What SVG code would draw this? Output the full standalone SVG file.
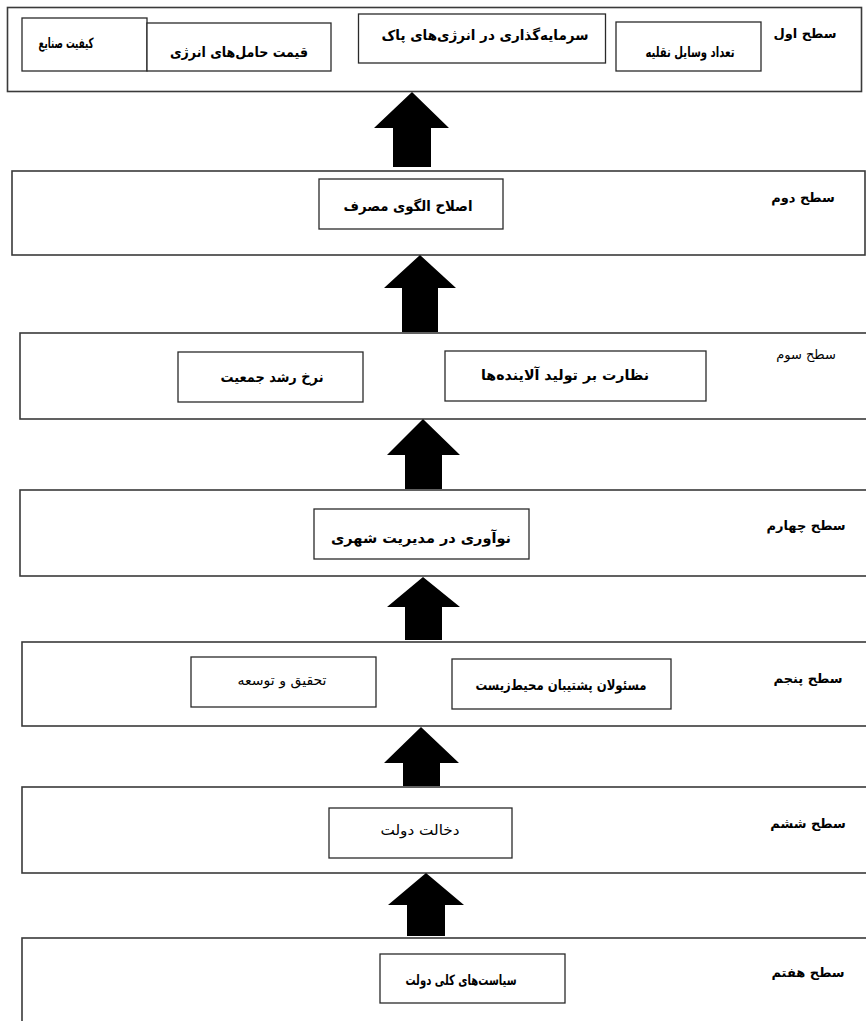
<svg xmlns="http://www.w3.org/2000/svg" width="866" height="1021" viewBox="0 0 866 1021">
<style>
.frame{fill:#fff;stroke:#3a3a3a;stroke-width:1.6}
.box{fill:#fff;stroke:#2a2a2a;stroke-width:1.3}
.t{font-family:"DejaVu Sans",sans-serif;font-size:14px;font-weight:bold;fill:#000;text-anchor:middle;direction:rtl}
.lbl{font-family:"DejaVu Sans",sans-serif;font-size:13px;font-weight:bold;fill:#000;text-anchor:middle;direction:rtl}
.t.r,.lbl.r{font-weight:normal}
.arrow{fill:#000}
</style>
<rect width="866" height="1021" fill="#fff"/>

<g id="level1">
<rect class="frame" x="7.5" y="7.5" width="854" height="84"/>
<text class="lbl" x="805" y="38">سطح اول</text>
</g>
<g id="n-keyfiat">
<rect class="box" x="22" y="18" width="125" height="53"/>
<text class="t" x="66" y="48" textLength="55" lengthAdjust="spacingAndGlyphs">کیفیت صنایع</text>
</g>
<g id="n-gheymat">
<rect class="box" x="147" y="23" width="184" height="48"/>
<text class="t" x="239" y="57" textLength="138" lengthAdjust="spacingAndGlyphs">قیمت حامل‌های انرژی</text>
</g>
<g id="n-sarmaye">
<rect class="box" x="358.5" y="14" width="247" height="49"/>
<text class="t" x="485" y="40" textLength="207" lengthAdjust="spacingAndGlyphs">سرمایه‌گذاری در انرژی‌های پاک</text>
</g>
<g id="n-tedad">
<rect class="box" x="616" y="22" width="145" height="49"/>
<text class="t" x="690" y="57" textLength="89" lengthAdjust="spacingAndGlyphs">تعداد وسایل نقلیه</text>
</g>

<g id="level2">
<rect class="frame" x="12" y="171" width="853" height="84"/>
<text class="lbl" x="803" y="202">سطح دوم</text>
</g>
<g id="n-eslah">
<rect class="box" x="319" y="179" width="184" height="50"/>
<text class="t" x="408" y="211" textLength="129" lengthAdjust="spacingAndGlyphs">اصلاح الگوی مصرف</text>
</g>

<g id="level3">
<rect class="frame" x="20" y="333" width="860" height="86"/>
<text class="lbl r" x="806" y="359" font-size="14">سطح سوم</text>
</g>
<g id="n-nerkh">
<rect class="box" x="178" y="352" width="185" height="50"/>
<text class="t" x="272" y="382" textLength="103" lengthAdjust="spacingAndGlyphs">نرخ رشد جمعیت</text>
</g>
<g id="n-nezarat">
<rect class="box" x="445" y="351" width="261" height="50"/>
<text class="t" x="565" y="380" textLength="168" lengthAdjust="spacingAndGlyphs">نظارت بر تولید آلاینده‌ها</text>
</g>

<g id="level4">
<rect class="frame" x="20" y="490" width="860" height="86"/>
<text class="lbl" x="806" y="530">سطح چهارم</text>
</g>
<g id="n-noavari">
<rect class="box" x="314" y="509" width="215" height="50"/>
<text class="t" x="421" y="543" textLength="180" lengthAdjust="spacingAndGlyphs">نوآوری در مدیریت شهری</text>
</g>

<g id="level5">
<rect class="frame" x="22" y="642" width="860" height="84"/>
<text class="lbl" x="808" y="683">سطح پنجم</text>
</g>
<g id="n-tahghigh">
<rect class="box" x="191" y="657" width="185" height="50"/>
<text class="t r" x="282" y="685" textLength="89" lengthAdjust="spacingAndGlyphs">تحقیق و توسعه</text>
</g>
<g id="n-masoulan">
<rect class="box" x="452" y="659" width="219" height="50"/>
<text class="t" x="561" y="690" textLength="171" lengthAdjust="spacingAndGlyphs">مسئولان پشتیبان محیط‌زیست</text>
</g>

<g id="level6">
<rect class="frame" x="22" y="787" width="860" height="86"/>
<text class="lbl" x="808" y="828">سطح ششم</text>
</g>
<g id="n-dekhalat">
<rect class="box" x="329" y="808" width="183" height="50"/>
<text class="t r" x="420" y="835" textLength="79" lengthAdjust="spacingAndGlyphs">دخالت دولت</text>
</g>

<g id="level7">
<rect class="frame" x="22" y="938" width="860" height="100"/>
<text class="lbl" x="808" y="977">سطح هفتم</text>
</g>
<g id="n-siasat">
<rect class="box" x="380" y="954" width="185" height="49"/>
<text class="t" x="461" y="985" textLength="111" lengthAdjust="spacingAndGlyphs">سیاست‌های کلی دولت</text>
</g>

<g id="connectors">
<polygon class="arrow" points="412,92 449,128 431,128 431,167 393,167 393,128 374,128"/>
<polygon class="arrow" points="420,255 456,288 438,288 438,332 402,332 402,288 384,288"/>
<polygon class="arrow" points="423,419 460,455 442,455 442,489 405,489 405,455 387,455"/>
<polygon class="arrow" points="423,577 460,607 442,607 442,640 405,640 405,607 387,607"/>
<polygon class="arrow" points="421,727 459,763 440,763 440,786 403,786 403,763 384,763"/>
<polygon class="arrow" points="426,873 464,905 445,905 445,936 407,936 407,905 388,905"/>
</g>
</svg>
